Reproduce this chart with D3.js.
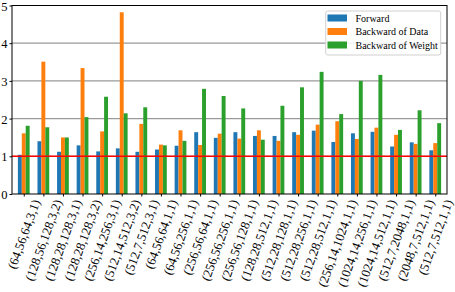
<!DOCTYPE html>
<html>
<head>
<meta charset="utf-8">
<script src="https://cdn.jsdelivr.net/npm/d3@7"></script>
<style>
  body { margin: 0; background: #fff; }
  text { font-family: "Liberation Serif", "DejaVu Serif", serif; fill: #000; }
</style>
</head>
<body>
<div id="chart"></div>
<script>
// layer shapes (tick labels)
var categories = [
  "(64,56,64,3,1)", "(128,56,128,3,2)", "(128,28,128,3,1)", "(128,28,128,3,2)",
  "(256,14,256,3,1)", "(512,14,512,3,2)", "(512,7,512,3,1)", "(64,56,64,1,1)",
  "(64,56,256,1,1)", "(256,56,64,1,1)", "(256,56,256,1,1)", "(256,56,128,1,1)",
  "(128,28,512,1,1)", "(512,28,128,1,1)", "(512,28,256,1,1)", "(512,28,512,1,1)",
  "(256,14,1024,1,1)", "(1024,14,256,1,1)", "(1024,14,512,1,1)", "(512,7,2048,1,1)",
  "(2048,7,512,1,1)", "(512,7,512,1,1)"
];

var forward = [1.04, 1.40, 1.12, 1.29, 1.13, 1.21, 1.12, 1.18, 1.28, 1.64, 1.49,
               1.64, 1.54, 1.54, 1.64, 1.68, 1.38, 1.61, 1.65, 1.26, 1.37, 1.16];
var backData = [1.61, 3.51, 1.50, 3.34, 1.66, 4.82, 1.86, 1.31, 1.69, 1.30, 1.60,
                1.47, 1.69, 1.41, 1.57, 1.84, 1.93, 1.46, 1.76, 1.57, 1.33, 1.35];
var backWeight = [1.81, 1.77, 1.50, 2.04, 2.58, 2.14, 2.30, 1.29, 1.41, 2.79, 2.60,
                  2.27, 1.44, 2.34, 2.83, 3.24, 2.12, 3.00, 3.16, 1.70, 2.22, 1.88];

var seriesNames = ["Forward", "Backward of Data", "Backward of Weight"];
var colors = ["#1f77b4", "#ff7f0e", "#2ca02c"];
var yTicks = [0, 1, 2, 3, 4, 5];
var baseline = 1;

var width = 455, height = 292;
// note: "top" is taken by window.top, so use plot* names
var plotL = 12, plotR = 447, plotT = 5.5, plotB = 194;

var svg = d3.select("#chart").append("svg")
    .attr("width", width)
    .attr("height", height);

var x = d3.scaleLinear()
    .domain([-0.6, categories.length - 1 + 0.6])
    .range([plotL, plotR]);

var y = d3.scaleLinear()
    .domain([0, 5])
    .range([plotB, plotT]);

// gridlines under the bars
svg.append("g")
  .selectAll("line")
  .data(yTicks.slice(1))
  .enter()
  .append("line")
  .attr("x1", plotL).attr("x2", plotR)
  .attr("y1", d => y(d)).attr("y2", d => y(d))
  .attr("stroke", "#9a9a9a")
  .attr("stroke-width", 1.2);

var barW = 0.2;
var allSeries = [forward, backData, backWeight];

allSeries.forEach(function(vals, s) {
    svg.append("g")
      .selectAll("rect")
      .data(vals)
      .enter()
      .append("rect")
      .attr("x", (d, i) => x(i - 0.3 + s * barW))
      .attr("width", x(barW) - x(0))
      .attr("y", d => y(d))
      .attr("height", d => y(0) - y(d))
      .attr("fill", colors[s]);
});

// red reference line
svg.append("line")
  .attr("x1", plotL).attr("x2", plotR)
  .attr("y1", y(baseline)).attr("y2", y(baseline))
  .attr("stroke", "#ff0000")
  .attr("stroke-width", 1.5);

// y axis
var yAxis = svg.append("g")
  .attr("transform", `translate(${plotL},0)`)
  .call(d3.axisLeft(y).tickValues(yTicks).tickSize(2.5).tickPadding(2).tickFormat(d3.format("d")));
yAxis.select(".domain").remove();
yAxis.selectAll("text")
  .attr("dy", "0.36em")
  .style("font-size", "12.5px")
  .style("font-family", '"Liberation Serif", serif');

// x axis ticks
var xAxis = svg.append("g")
  .attr("transform", `translate(0,${plotB})`)
  .call(d3.axisBottom(x).tickValues(d3.range(categories.length)).tickSize(2.5).tickFormat(""));
xAxis.select(".domain").remove();

// rotated x labels, centred on tick like matplotlib ha=center
var ang = 70 * Math.PI / 180;
var labelTop = 198;
svg.append("g")
  .selectAll("text")
  .data(categories)
  .enter()
  .append("text")
  .style("font-size", "12.8px")
  .attr("text-anchor", "middle")
  .attr("dominant-baseline", "central")
  .text(d => d)
  .each(function(d, i) {
      var L = this.getComputedTextLength();
      var h = 13;
      var cy = labelTop + (L * Math.sin(ang) + h * Math.cos(ang)) / 2;
      var cx = x(i) + 0.5;
      d3.select(this).attr("transform", `translate(${cx},${cy}) rotate(-70)`);
  });

// spines
svg.append("rect")
  .attr("x", plotL).attr("y", plotT)
  .attr("width", plotR - plotL).attr("height", plotB - plotT)
  .attr("fill", "none")
  .attr("stroke", "#000")
  .attr("stroke-width", 1);

// legend
var lg = svg.append("g");
lg.append("rect")
  .attr("x", 325.7).attr("y", 11)
  .attr("width", 115).attr("height", 44)
  .attr("rx", 2)
  .attr("fill", "#fff").attr("fill-opacity", 0.85)
  .attr("stroke", "#d0d0d0");

seriesNames.forEach(function(name, i) {
    var cy = 18 + i * 13.5;
    lg.append("rect")
      .attr("x", 327.5).attr("y", cy - 3.5)
      .attr("width", 19.5).attr("height", 7)
      .attr("fill", colors[i]);
    lg.append("text")
      .attr("x", 355.5).attr("y", cy)
      .attr("dominant-baseline", "central")
      .style("font-size", "10px")
      .text(name);
});
</script>
</body>
</html>
